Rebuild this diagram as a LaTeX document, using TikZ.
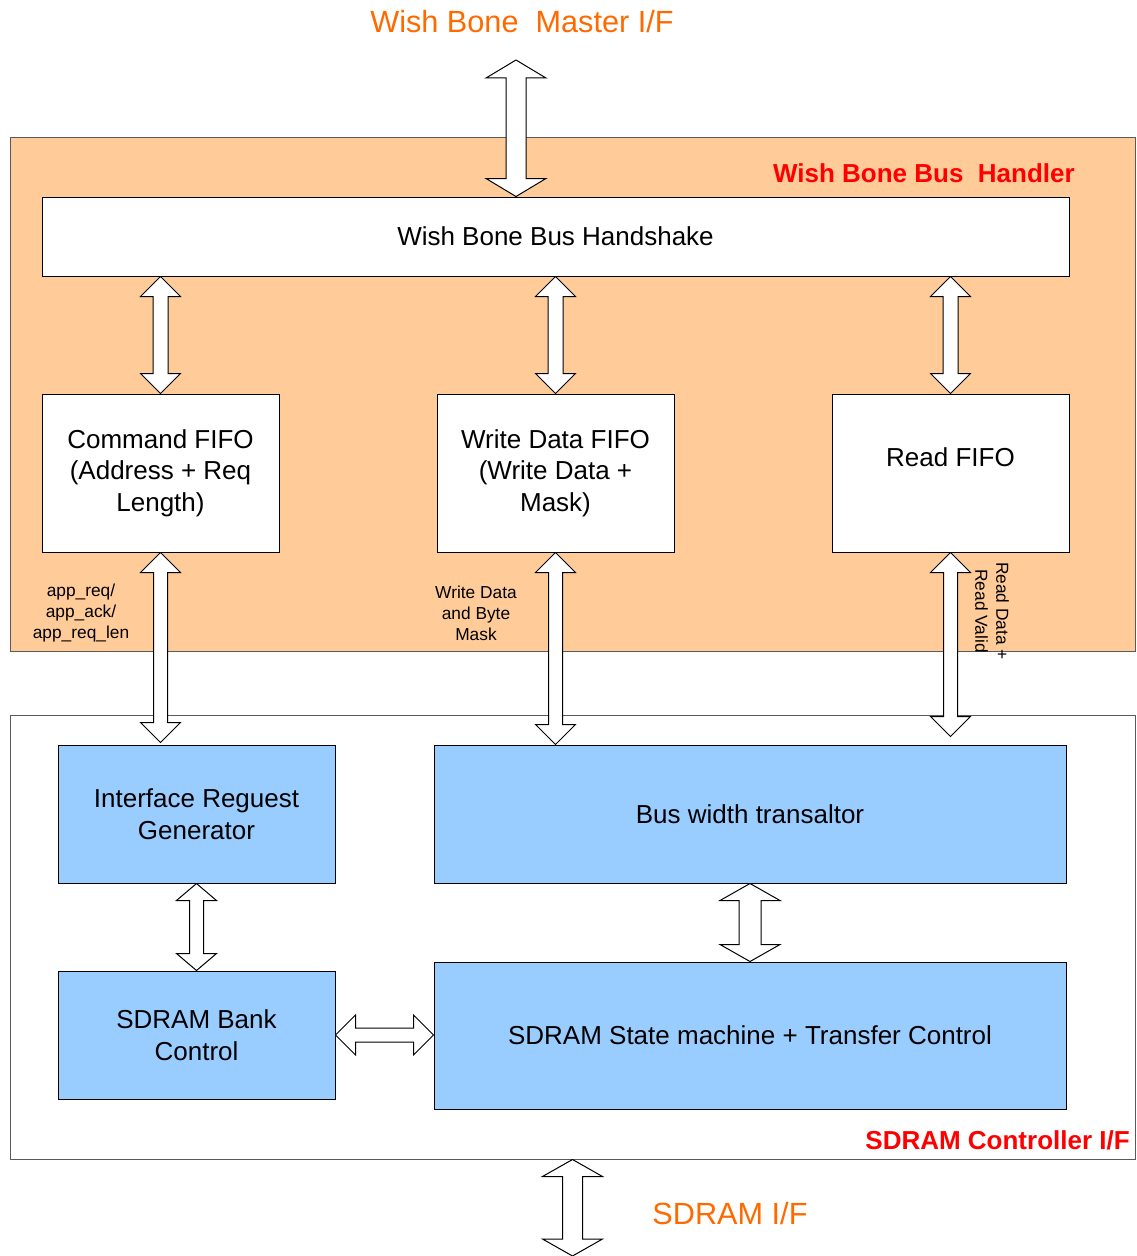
\documentclass[tikz,border=0pt]{standalone}
\usepackage{fontspec}
\setmainfont{Liberation Sans}
\usepackage{xcolor}
\usetikzlibrary{positioning, calc}

\definecolor{hndfill}{RGB}{255,204,153}
\definecolor{blkblue}{RGB}{153,204,255}
\definecolor{ifcolor}{RGB}{255,106,0}
\definecolor{edgegray}{RGB}{90,90,90}

\tikzset{
  blk/.style={draw, line width=0.75pt, align=center, inner sep=0pt,
              font=\fontsize{19.5}{23.6}\selectfont},
  sig/.style={align=center, inner sep=0pt, font=\fontsize{13}{15.75}\selectfont},
  hdr/.style={text=red, inner sep=0pt, font=\fontsize{19.5}{23.6}\selectfont\bfseries},
  barrow/.style={draw, fill=white, line width=0.75pt, line join=miter},
  varrow/.style n args={3}{to path={
      -- ($(\tikztostart)+(#2,#3)$) -- ($(\tikztostart)+(#1,#3)$)
      -- ($(\tikztotarget)+(#1,-#3)$) -- ($(\tikztotarget)+(#2,-#3)$)
      -- (\tikztotarget)
      -- ($(\tikztotarget)+(-#2,-#3)$) -- ($(\tikztotarget)+(-#1,-#3)$)
      -- ($(\tikztostart)+(-#1,#3)$) -- ($(\tikztostart)+(-#2,#3)$)
      -- (\tikztostart)}},
  harrow/.style n args={3}{to path={
      -- ($(\tikztostart)+(#3,-#2)$) -- ($(\tikztostart)+(#3,-#1)$)
      -- ($(\tikztotarget)+(-#3,-#1)$) -- ($(\tikztotarget)+(-#3,-#2)$)
      -- (\tikztotarget)
      -- ($(\tikztotarget)+(-#3,#2)$) -- ($(\tikztotarget)+(-#3,#1)$)
      -- ($(\tikztostart)+(#3,#1)$) -- ($(\tikztostart)+(#3,#2)$)
      -- (\tikztostart)}},
}

\begin{document}
\begin{tikzpicture}[x=0.75pt,y=0.75pt,yscale=-1,xscale=1]
\useasboundingbox (0,0) rectangle (1136,1256);

%Shape: Rectangle [handler]
\node [draw=edgegray, fill=hndfill, line width=0.75pt, minimum width=843.75pt, minimum height=385.5pt, inner sep=0pt] (wbh) at (572.5,394) {};
%Shape: Rectangle [controller]
\node [draw=edgegray, fill=white, line width=0.75pt, minimum width=843.75pt, minimum height=333pt, inner sep=0pt] (sdc) at (572.5,937) {};

% Blocks of the bus handler
\node [blk, fill=white, minimum width=770.25pt, minimum height=59.25pt] (hs) at (555.5,236.5) {Wish Bone Bus Handshake};
\node [blk, fill=white, minimum width=177.75pt, minimum height=118.5pt] (cf) at (160.5,473) {Command FIFO\\(Address + Req\\Length)};
\node [blk, fill=white, minimum width=177.75pt, minimum height=118.5pt] (wd) at (555.5,473) {Write Data FIFO\\(Write Data +\\Mask)};
\node [blk, fill=white, minimum width=177.75pt, minimum height=118.5pt] (rf) at (950.5,473) {Read FIFO\\ \mbox{}};

% Blocks of the controller
\node [blk, fill=blkblue, minimum width=207.75pt, minimum height=103.5pt] (irg) at (196.5,814) {Interface Reguest\\Generator};
\node [blk, fill=blkblue, minimum width=474pt, minimum height=103.5pt] (bwt) at (750,814) {Bus width transaltor};
\node [blk, fill=blkblue, minimum width=207.75pt, minimum height=96pt] (bank) at (196.5,1035) {SDRAM Bank\\Control};
\node [blk, fill=blkblue, minimum width=474pt, minimum height=110.25pt] (sm) at (750,1035.5) {SDRAM State machine + Transfer Control};

% Free ends
\coordinate (wbin) at (516,60);
\coordinate (sdout) at (572.5,1256);

% Block arrows
\draw [barrow] (wbin) to[varrow={10}{30}{18}] (wbin |- hs.north);
\foreach \n in {cf, wd, rf}
  \draw [barrow] (\n.north |- hs.south) to[varrow={7.5}{20}{20}] (\n.north);
\draw [barrow] (cf.south) to[varrow={7}{20}{20}] ($(cf.south |- irg.north)+(0,-2)$);
\draw [barrow] (wd.south) to[varrow={7}{20}{20}] (wd.south |- bwt.north);
\draw [barrow] (rf.south) to[varrow={7}{20}{20}] ($(rf.south |- bwt.north)+(0,-8)$);
\draw [barrow] (irg.south) to[varrow={7}{20}{17}] (bank.north);
\draw [barrow] (bwt.south) to[varrow={11}{30}{17}] (sm.north);
\draw [barrow] (bank.east) to[harrow={7}{20}{20}] (bank.east -| sm.west);
\draw [barrow] (sdc.south) to[varrow={10}{30}{17}] (sdout);

% Text Node
\node [text=ifcolor, inner sep=0pt, font=\fontsize{23}{27}\selectfont] (wbif) at (522,22) {Wish Bone~~Master I/F};
% Text Node
\node [text=ifcolor, inner sep=0pt, font=\fontsize{23}{27}\selectfont] (sdif) at (730,1214) {SDRAM I/F};
% Text Node
\node [hdr, anchor=east] (wbhlbl) at (1075,173) {Wish Bone Bus~~Handler};
% Text Node
\node [hdr, anchor=east] (sdclbl) at (1130,1140) {SDRAM Controller I/F};
% Text Node
\node [sig] (reqlbl) at (81,613) {app\_req/\\app\_ack/\\app\_req\_len};
% Text Node
\node [sig] (wrlbl) at (476,613) {Write Data\\and Byte\\Mask};
% Text Node
\node [sig, rotate=-90] (rdlbl) at (992,611) {Read Data +\\Read Valid};

\end{tikzpicture}
\end{document}
